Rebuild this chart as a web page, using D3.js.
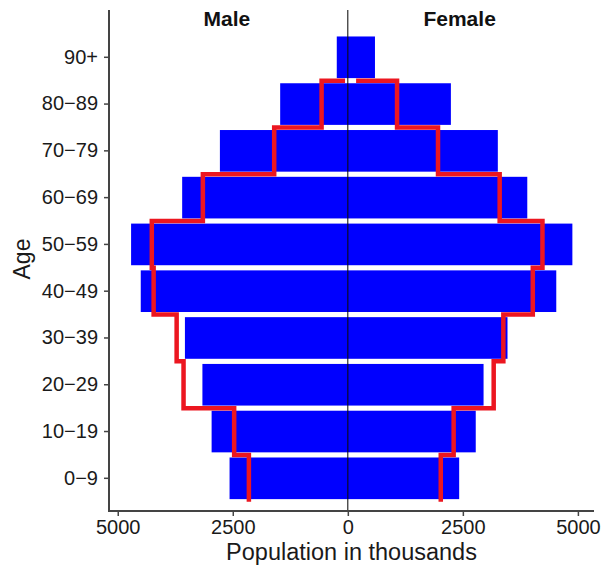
<!DOCTYPE html>
<html>
<head>
<meta charset="utf-8">
<script src="https://cdn.jsdelivr.net/npm/d3@7"></script>
<style>
  html, body { margin: 0; padding: 0; background: #fff; }
  svg { display: block; font-family: "Liberation Sans", Arial, Helvetica, sans-serif; }
</style>
</head>
<body>
<svg id="chart" width="606" height="566"></svg>
<script>
// Age groups, youngest first
const ageGroups = ["0\u22129", "10\u221219", "20\u221229", "30\u221239", "40\u221249",
                   "50\u221259", "60\u221269", "70\u221279", "80\u221289", "90+"];

// Current population (thousands), blue bars
const maleBars   = [2570, 2960, 3160, 3540, 4500, 4710, 3600, 2780, 1470, 240];
const femaleBars = [2420, 2780, 2950, 3470, 4530, 4880, 3900, 3260, 2240, 590];

// Comparison population (thousands), red step outline
const maleStep   = [2150, 2470, 3570, 3720, 4220, 4260, 3150, 1600, 570, 60];
const femaleStep = [2020, 2300, 3170, 3380, 4020, 4230, 3300, 1960, 1070, 180];

const xTicks = [-5000, -2500, 0, 2500, 5000];
const sideLabels = ["Male", "Female"];
const xTitle = "Population in thousands";
const yTitle = "Age";

const svg = d3.select("#chart");

// Panel extents
const panel = { left: 109, right: 594, top: 10, bottom: 511 };

const x = d3.scaleLinear()
  .domain([-5190, 5350])
  .range([panel.left, panel.right]);

const y = d3.scaleBand()
  .domain(ageGroups.slice().reverse())
  .range([33.9, 501.7])
  .paddingInner(0.11)
  .paddingOuter(0.055);

const step = y.step();
const bandTop = a => y(a) + y.bandwidth() / 2 - step / 2;
const bandBottom = a => y(a) + y.bandwidth() / 2 + step / 2;

const blue = "#0000ff";
const red = "#ec1620";
const axisColor = "#444";

// Bars
const barData = ageGroups.flatMap((a, i) => [
  { age: a, v: -maleBars[i] },
  { age: a, v: femaleBars[i] }
]);

svg.append("g").selectAll("rect")
  .data(barData)
  .join("rect")
  .attr("x", d => Math.min(x(0), x(d.v)))
  .attr("width", d => Math.abs(x(d.v) - x(0)))
  .attr("y", d => y(d.age))
  .attr("height", y.bandwidth())
  .attr("fill", blue);

// Step outline: vertical at each group's value across its band,
// horizontal joins at band boundaries; the last value only closes the top join.
function stepPoints(values, sign) {
  const pts = [];
  for (let i = 0; i < ageGroups.length - 1; i++) {
    const a = ageGroups[i];
    const v = sign * values[i];
    if (i === 0) pts.push([x(v), bandBottom(a)]);
    pts.push([x(v), bandTop(a)]);
    pts.push([x(sign * values[i + 1]), bandTop(a)]);
  }
  return pts;
}

const line = d3.line();
[[maleStep, -1], [femaleStep, 1]].forEach(([vals, s]) => {
  svg.append("path")
    .attr("d", line(stepPoints(vals, s)))
    .attr("fill", "none")
    .attr("stroke", red)
    .attr("stroke-width", 4.5)
    .attr("stroke-linejoin", "miter")
    .attr("stroke-linecap", "butt");
});

// Centre line at zero
svg.append("line")
  .attr("x1", x(0)).attr("x2", x(0))
  .attr("y1", panel.top).attr("y2", panel.bottom)
  .attr("stroke", "#000")
  .attr("stroke-width", 1);

// Y axis
const yAxis = svg.append("g")
  .attr("transform", `translate(${panel.left},0)`)
  .call(d3.axisLeft(y).tickSize(5).tickPadding(6));
yAxis.select(".domain").remove();
yAxis.selectAll(".tick line").attr("stroke", axisColor).attr("stroke-width", 1.5);
yAxis.selectAll(".tick text")
  .attr("font-size", 20)
  .attr("font-family", "Liberation Sans, Arial, sans-serif")
  .attr("fill", "#1a1a1a");
svg.append("line")
  .attr("x1", panel.left).attr("x2", panel.left)
  .attr("y1", panel.top).attr("y2", panel.bottom + 1)
  .attr("stroke", axisColor).attr("stroke-width", 2);

// X axis
const xAxis = svg.append("g")
  .attr("transform", `translate(0,${panel.bottom})`)
  .call(d3.axisBottom(x).tickValues(xTicks).tickFormat(d => Math.abs(d)).tickSize(5).tickPadding(4));
xAxis.select(".domain").remove();
xAxis.selectAll(".tick line").attr("stroke", axisColor).attr("stroke-width", 1.5);
xAxis.selectAll(".tick text")
  .attr("font-size", 20)
  .attr("font-family", "Liberation Sans, Arial, sans-serif")
  .attr("fill", "#1a1a1a");
svg.append("line")
  .attr("x1", panel.left - 1).attr("x2", panel.right)
  .attr("y1", panel.bottom).attr("y2", panel.bottom)
  .attr("stroke", axisColor).attr("stroke-width", 2);

// Side labels
svg.selectAll("text.side")
  .data(sideLabels)
  .join("text")
  .attr("class", "side")
  .attr("x", (d, i) => x(i === 0 ? -2630 : 2430))
  .attr("y", 26)
  .attr("text-anchor", "middle")
  .attr("font-weight", "bold")
  .attr("font-size", 21)
  .attr("fill", "#111")
  .text(d => d);

// Axis titles
svg.append("text")
  .attr("x", (panel.left + panel.right) / 2)
  .attr("y", 560)
  .attr("text-anchor", "middle")
  .attr("font-size", 23.5)
  .attr("fill", "#1a1a1a")
  .text(xTitle);

svg.append("text")
  .attr("transform", `translate(29.5,259) rotate(-90)`)
  .attr("text-anchor", "middle")
  .attr("font-size", 23)
  .attr("fill", "#1a1a1a")
  .text(yTitle);
</script>
</body>
</html>
